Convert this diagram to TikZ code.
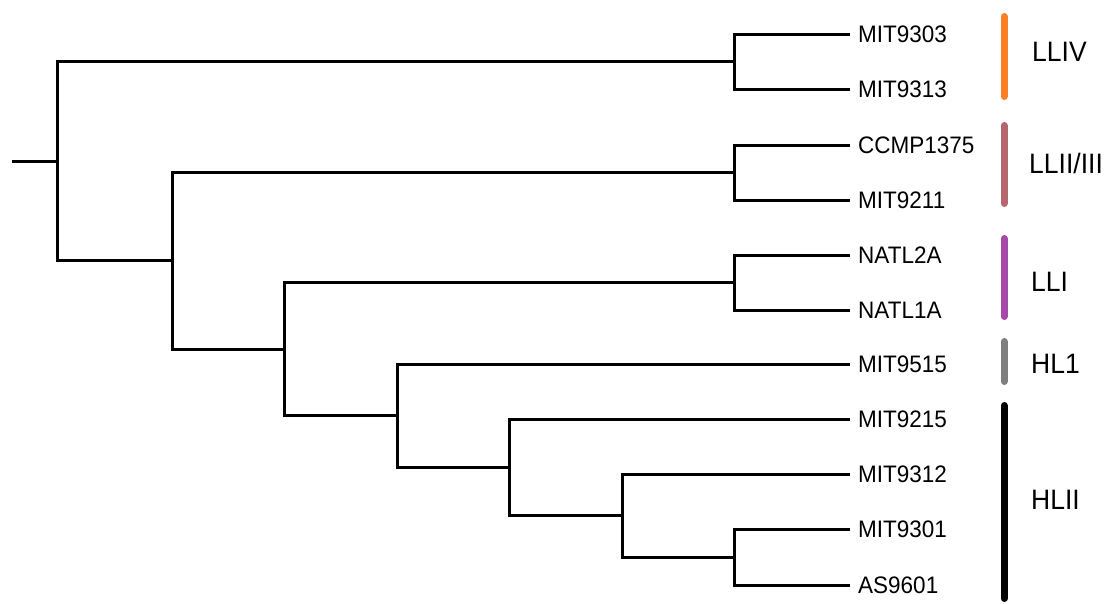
\documentclass[tikz,border=0pt]{standalone}
\usepackage{fontspec}
\setmainfont{Liberation Sans}
\definecolor{cLLIV}{HTML}{FF7F27}
\definecolor{cLLII}{HTML}{B4676F}
\definecolor{cLLI}{HTML}{A54AA8}
\definecolor{cHLI}{HTML}{7F7F7F}
\definecolor{cHLII}{HTML}{000000}
\newcommand{\tallt}[1]{\scalebox{1}[1.06]{#1}}
\begin{document}
\begin{tikzpicture}[x=1pt,y=-1pt,
  branch/.style={line width=3pt,line join=miter},
  tipbranch/.style={branch,shorten >=8pt},
  leaf/.style={anchor=west,inner sep=0pt,font=\fontsize{22.5}{27}\selectfont},
  clade/.style={anchor=west,inner sep=0pt,font=\fontsize{26.5}{31}\selectfont},
  bar/.style={line width=7pt,line cap=round}]
\useasboundingbox (0,0) rectangle (1109,603);
% leaves
\node[leaf] (l1) at (858,34) {\tallt{MIT9303}};
\node[leaf] (l2) at (858,89) {\tallt{MIT9313}};
\node[leaf] (l3) at (858,145) {\tallt{CCMP1375}};
\node[leaf] (l4) at (858,200) {\tallt{MIT9211}};
\node[leaf] (l5) at (858,255) {\tallt{NATL2A}};
\node[leaf] (l6) at (858,310) {\tallt{NATL1A}};
\node[leaf] (l7) at (858,364) {\tallt{MIT9515}};
\node[leaf] (l8) at (858,419) {\tallt{MIT9215}};
\node[leaf] (l9) at (858,474) {\tallt{MIT9312}};
\node[leaf] (l10) at (858,529) {\tallt{MIT9301}};
\node[leaf] (l11) at (858,585) {\tallt{AS9601}};
% internal nodes
\coordinate (n1) at (734,61.5);
\coordinate (n2) at (734,172.5);
\coordinate (n3) at (734,282.5);
\coordinate (n8) at (734,557);
\coordinate (n7) at (622,515.5);
\coordinate (n6) at (509,467.5);
\coordinate (n5) at (397,415.75);
\coordinate (n4) at (284,349.1);
\coordinate (n9) at (172,260.8);
\coordinate (root) at (57,161.2);
\coordinate (stub) at (12,161.2);
% branches
\draw[branch] (stub) -- (root);
\draw[branch] (root) |- (n1);
\draw[branch] (root) |- (n9);
\draw[branch] (n9) |- (n2);
\draw[branch] (n9) |- (n4);
\draw[branch] (n4) |- (n3);
\draw[branch] (n4) |- (n5);
\draw[branch] (n5) |- (n6);
\draw[branch] (n6) |- (n7);
\draw[branch] (n7) |- (n8);
\draw[tipbranch] (n1) |- (l1.west);
\draw[tipbranch] (n1) |- (l2.west);
\draw[tipbranch] (n2) |- (l3.west);
\draw[tipbranch] (n2) |- (l4.west);
\draw[tipbranch] (n3) |- (l5.west);
\draw[tipbranch] (n3) |- (l6.west);
\draw[tipbranch] (n5) |- (l7.west);
\draw[tipbranch] (n6) |- (l8.west);
\draw[tipbranch] (n7) |- (l9.west);
\draw[tipbranch] (n8) |- (l10.west);
\draw[tipbranch] (n8) |- (l11.west);
% clade bars
\draw[bar,cLLIV] (1004,16.5) -- (1004,96.5);
\draw[bar,cLLII] (1004,125.5) -- (1004,203.5);
\draw[bar,cLLI] (1004,238.5) -- (1004,316.5);
\draw[bar,cHLI] (1004,341.5) -- (1004,381.5);
\draw[bar,cHLII] (1004,405.5) -- (1004,598.5);
% clade labels
\node[clade] (c1) at (1032,52) {\tallt{LLIV}};
\node[clade] (c2) at (1029,163) {\tallt{LLII/III}};
\node[clade] (c3) at (1031,282) {\tallt{LLI}};
\node[clade] (c4) at (1031,364) {\tallt{HL1}};
\node[clade] (c5) at (1031,500) {\tallt{HLII}};
\end{tikzpicture}
\end{document}
